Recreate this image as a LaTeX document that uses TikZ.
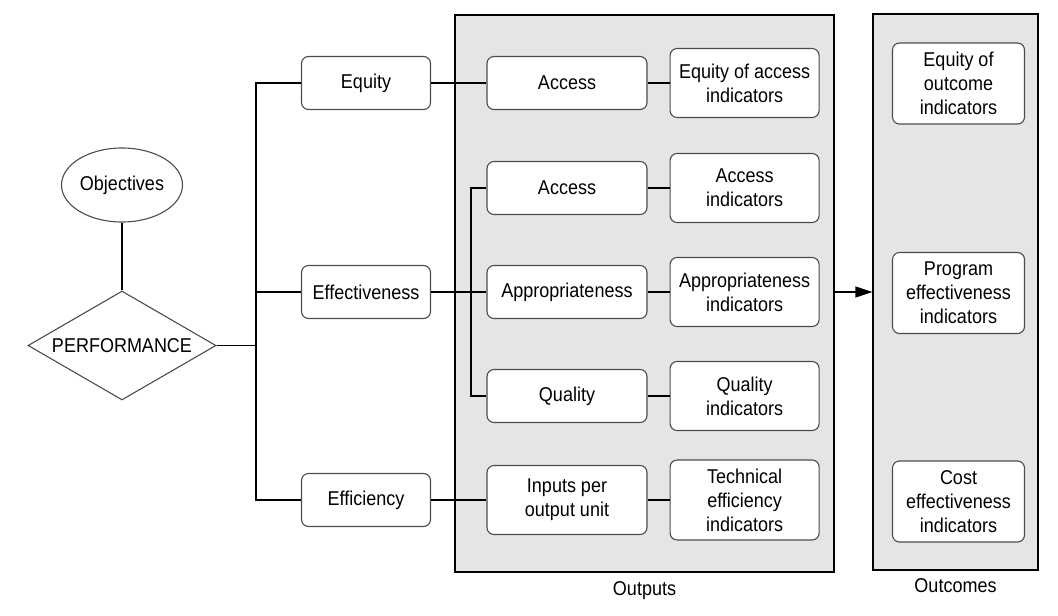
\documentclass[tikz,border=0pt]{standalone}
\usepackage{fontspec}
\setmainfont[FakeStretch=0.9]{Liberation Sans}
\usetikzlibrary{shapes.geometric, positioning, arrows.meta}
\tikzset{
  box/.style={
    rectangle,
    rounded corners=7pt,
    draw=black!70, line width=1.1pt,
    fill=white,
    align=center,
    inner sep=0pt
  },
  crit/.style={box, minimum width=129pt, minimum height=53pt},
  outbox/.style={box, minimum width=160pt, minimum height=53pt},
  indbox/.style={box, minimum width=149pt, minimum height=69pt},
  resbox/.style={box, minimum width=132pt, minimum height=81pt},
  panel/.style={
    rectangle,
    draw=black, line width=1.1pt,
    fill=black!10,
    inner sep=0pt
  },
  line/.style={
    draw=black,
    line width=1.1pt
  },
  arrow/.style={
    draw=black,
    line width=1.1pt,
    -{Triangle[length=17pt,width=11pt]}
  }
}

\begin{document}
\begin{tikzpicture}[x=1pt, y=-1pt, font=\fontsize{20}{24}\selectfont]
\useasboundingbox (0,0) rectangle (1058,616);

% panels
\node[panel, minimum width=379pt, minimum height=557pt,
      label={[label distance=5pt]below:Outputs}] (outputs) at (644.5,293.5) {};
\node[panel, minimum width=165pt, minimum height=556pt,
      label={[label distance=4pt]below:Outcomes}] (outcomes) at (955.5,292) {};

% nodes
\node[ellipse, draw=black!70, line width=1.1pt, inner sep=0pt,
      minimum width=121pt, minimum height=74pt] (obj) at (122,185) {Objectives};
\node[diamond, draw=black!70, line width=1.1pt, inner sep=0pt,
      minimum width=188pt, minimum height=109pt,
      label=center:PERFORMANCE] (perf) at (122,345.5) {};

\node[crit] (equity) at (366,83)  {Equity};
\node[crit] (effect) at (366,292) {Effectiveness};
\node[crit] (effic)  at (366,500) {Efficiency};

\node[outbox] (acc1)   at (567,83)  {Access};
\node[outbox] (acc2)   at (567,188) {Access};
\node[outbox] (approp) at (567,292) {Appropriateness};
\node[outbox] (qual)   at (567,396) {Quality};
\node[outbox, minimum height=69pt] (inputs) at (567,500) {Inputs per\\output unit};

\node[indbox, right = 22pt of acc1]   (eqacc)   {Equity of access\\indicators};
\node[indbox, right = 22pt of acc2]   (accind)  {Access\\indicators};
\node[indbox, right = 22pt of approp] (appind)  {Appropriateness\\indicators};
\node[indbox, right = 22pt of qual]   (qualind) {Quality\\indicators};
\node[indbox, right = 22pt of inputs, minimum height=80pt] (techind) {Technical\\efficiency\\indicators};

\node[resbox] (eqout) at (958.5,83.5)  {Equity of\\outcome\\indicators};
\node[resbox] (prog)  at (958.5,293)   {Program\\effectiveness\\indicators};
\node[resbox] (cost)  at (958.5,501.5) {Cost\\effectiveness\\indicators};

% edges
\coordinate (bus) at (256,0);
\coordinate (ibus) at (471,0);

%% performance
\draw [line] (obj.south) -- (perf.north);
\draw [line] (perf.east) -- (perf.east -| bus);
\draw [line] (equity.west) -- (equity.west -| bus) -- (effic.west -| bus) -- (effic.west);
\draw [line] (effect.west) -- (effect.west -| bus);

%% criteria
\draw [line] (equity.east) -- (acc1.west);
\draw [line] (effect.east) -- (approp.west);
\draw [line] (effic.east) -- (inputs.west);
\draw [line] (acc2.west) -- (acc2.west -| ibus) -- (qual.west -| ibus) -- (qual.west);

%% indicators
\draw [line] (acc1.east) -- (eqacc.west);
\draw [line] (acc2.east) -- (accind.west);
\draw [line] (approp.east) -- (appind.west);
\draw [line] (qual.east) -- (qualind.west);
\draw [line] (inputs.east) -- (techind.west);

%% outputs
\draw [arrow] (outputs.east |- approp.east) -- (outcomes.west |- approp.east);

\end{tikzpicture}
\end{document}
